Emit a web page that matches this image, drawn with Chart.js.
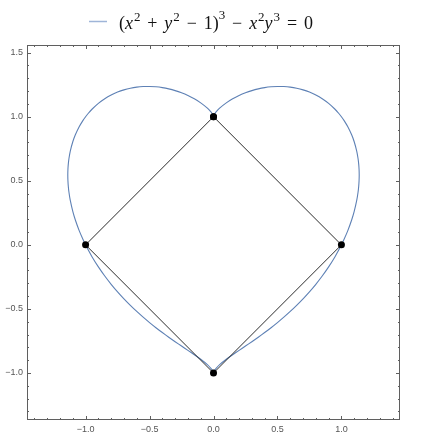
<!DOCTYPE html>
<html>
<head>
<meta charset="utf-8">
<script src="https://cdn.jsdelivr.net/npm/chart.js@4"></script>
<style>
  html, body { margin: 0; padding: 0; background: #fff; }
  #wrap { width: 422px; height: 448px; }
</style>
</head>
<body>
<div id="wrap"><canvas id="heartChart" width="422" height="448"></canvas></div>
<script>
// right half of the heart curve (mirrored for the left half)
const heartX     = [0, 0.005, 0.01, 0.02, 0.05, 0.1, 0.15, 0.2, 0.25, 0.3, 0.35, 0.4, 0.45, 0.5, 0.55, 0.6, 0.65, 0.7, 0.75, 0.8, 0.85, 0.9, 0.95, 0.98, 1.0, 1.02, 1.05, 1.08, 1.1, 1.12, 1.13, 1.135, 1.138, 1.1391];
const heartUpper = [1, 1.0147, 1.0234, 1.0373, 1.0689, 1.1085, 1.1399, 1.1656, 1.1868, 1.2040, 1.2174, 1.2273, 1.2337, 1.2365, 1.2357, 1.2312, 1.2227, 1.2099, 1.1924, 1.1696, 1.1406, 1.1042, 1.0585, 1.0253, 1.0, 0.9717, 0.9219, 0.8589, 0.8046, 0.7300, 0.6742, 0.6321, 0.5895, 0.5453];
const heartLower = [-1, -0.9855, -0.9770, -0.9636, -0.9332, -0.8931, -0.8576, -0.8236, -0.7900, -0.7558, -0.7208, -0.6844, -0.6465, -0.6066, -0.5645, -0.5198, -0.4723, -0.4215, -0.3669, -0.3078, -0.2433, -0.1721, -0.0921, -0.0386, 0, 0.0416, 0.1112, 0.1937, 0.2610, 0.3485, 0.4107, 0.4560, 0.5005, 0.5453];

// square through the four marked points
const squareX = [0, 1, 0, -1, 0];
const squareY = [1, 0, -1, 0, 1];

const xTicks = [-1, -0.5, 0, 0.5, 1];
const yTicks = [-1, -0.5, 0, 0.5, 1, 1.5];
const xRange = [-1.458, 1.458];
const yRange = [-1.367, 1.56];

const curveColor = '#5E81B5';
const frameColor = '#5f5f5f';

function buildHeart() {
    const pts = [];
    const push = (x, y) => {
        const last = pts[pts.length - 1];
        if (last && last.x === x && last.y === y) return;
        pts.push({ x: x, y: y });
    };
    const n = heartX.length;
    for (let i = 0; i < n; i++) push(heartX[i], heartUpper[i]);
    for (let i = n - 1; i >= 0; i--) push(heartX[i], heartLower[i]);
    for (let i = 0; i < n; i++) push(-heartX[i], heartLower[i]);
    for (let i = n - 1; i >= 0; i--) push(-heartX[i], heartUpper[i]);
    return pts;
}

const squarePts = squareX.map((x, i) => ({ x: x, y: squareY[i] }));

function fmt(v) {
    return v.toFixed(1).replace('-', '\u2212');
}

// frame with inward major / minor ticks on all four sides
const framePlugin = {
    id: 'frame',
    afterDatasetsDraw(chart) {
        const { ctx, chartArea: a, scales } = chart;
        ctx.save();
        ctx.strokeStyle = frameColor;
        ctx.lineWidth = 1;
        ctx.strokeRect(Math.round(a.left) + 0.5, Math.round(a.top) + 0.5,
            Math.round(a.right - a.left) - 1, Math.round(a.bottom - a.top) - 1);
        ctx.beginPath();
        for (let k = -14; k <= 14; k++) {
            const px = Math.round(scales.x.getPixelForValue(k / 10)) + 0.5;
            const len = k % 5 === 0 ? 4 : 2;
            ctx.moveTo(px, a.bottom);
            ctx.lineTo(px, a.bottom - len);
            ctx.moveTo(px, a.top);
            ctx.lineTo(px, a.top + len);
        }
        for (let k = -13; k <= 15; k++) {
            const py = Math.round(scales.y.getPixelForValue(k / 10)) + 0.5;
            const len = k % 5 === 0 ? 4 : 2;
            ctx.moveTo(a.left, py);
            ctx.lineTo(a.left + len, py);
            ctx.moveTo(a.right, py);
            ctx.lineTo(a.right - len, py);
        }
        ctx.stroke();
        ctx.restore();
    }
};

// legend with the equation written out with superscripts
const legendPlugin = {
    id: 'mathLegend',
    afterDraw(chart) {
        const ctx = chart.ctx;
        const size = 18;
        const targetW = 194;
        const parts = [
            ['(', 'r'], ['x', 'i'], ['2', 's'], ['+', 'o'], ['y', 'i'], ['2', 's'],
            ['\u2212', 'o'], ['1', 'r'], [')', 'r'], ['3', 'S'], ['\u2212', 'o'],
            ['x', 'i'], ['2', 's'], ['y', 'i'], ['3', 's'], ['=', 'o'], ['0', 'r']
        ];
        const fonts = {
            r: size + 'px "Liberation Serif"',
            o: size + 'px "Liberation Serif"',
            i: 'italic ' + size + 'px "Liberation Serif"',
            s: Math.round(size * 0.7) + 'px "Liberation Serif"',
            S: Math.round(size * 0.7) + 'px "Liberation Serif"'
        };
        const lift = { s: size * 0.42, S: size * 0.55 };
        ctx.save();
        let w = 0, ops = 0;
        parts.forEach(([t, s]) => {
            ctx.font = fonts[s];
            w += ctx.measureText(t).width + (s === 'i' ? 1 : 0);
            if (s === 'o') ops++;
        });
        const gap = Math.max(0, (targetW - w) / (ops * 2));

        ctx.strokeStyle = '#9fb5d8';
        ctx.lineWidth = 1.5;
        ctx.beginPath();
        ctx.moveTo(89, 21.5);
        ctx.lineTo(107, 21.5);
        ctx.stroke();

        ctx.fillStyle = '#111';
        ctx.textBaseline = 'alphabetic';
        let x = 119;
        const base = 28.5;
        parts.forEach(([t, s]) => {
            ctx.font = fonts[s];
            if (s === 'o') x += gap;
            ctx.fillText(t, x, base - (lift[s] || 0));
            x += ctx.measureText(t).width + (s === 'i' ? 1 : 0);
            if (s === 'o') x += gap;
        });
        ctx.restore();
    }
};

const tickFont = { family: '"Liberation Sans", Arial, sans-serif', size: 9 };

new Chart(document.getElementById('heartChart'), {
    type: 'scatter',
    data: {
        datasets: [{
            label: 'points',
            data: squarePts,
            showLine: true,
            borderColor: '#2a2a2a',
            borderWidth: 1,
            pointRadius: 3.5,
            pointBackgroundColor: '#000',
            pointBorderColor: '#000',
            pointBorderWidth: 0,
            tension: 0
        }, {
            label: '(x\u00b2 + y\u00b2 \u2212 1)\u00b3 \u2212 x\u00b2y\u00b3 = 0',
            data: buildHeart(),
            showLine: true,
            borderColor: curveColor,
            borderWidth: 1.1,
            pointRadius: 0,
            tension: 0.25
        }]
    },
    options: {
        responsive: false,
        animation: false,
        layout: { padding: { top: 45, right: 22, bottom: 0, left: 0 } },
        plugins: {
            legend: { display: false },
            tooltip: { enabled: false }
        },
        scales: {
            x: {
                type: 'linear',
                min: xRange[0],
                max: xRange[1],
                grid: { display: false, drawTicks: false },
                border: { display: false },
                afterBuildTicks: (scale) => { scale.ticks = xTicks.map(v => ({ value: v })); },
                afterFit: (scale) => { scale.height = 28; },
                ticks: { font: tickFont, color: '#555', padding: 4, callback: (v) => fmt(v) }
            },
            y: {
                type: 'linear',
                min: yRange[0],
                max: yRange[1],
                grid: { display: false, drawTicks: false },
                border: { display: false },
                afterBuildTicks: (scale) => { scale.ticks = yTicks.map(v => ({ value: v })); },
                afterFit: (scale) => { scale.width = 27; },
                ticks: { font: tickFont, color: '#555', padding: 4, callback: (v) => fmt(v) }
            }
        }
    },
    plugins: [framePlugin, legendPlugin]
});
</script>
</body>
</html>
